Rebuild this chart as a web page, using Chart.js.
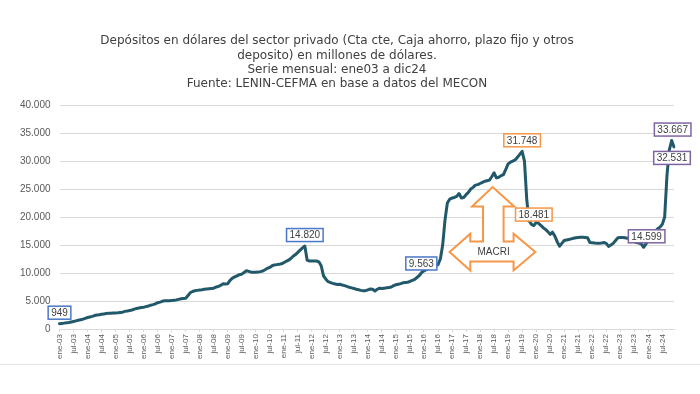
<!DOCTYPE html>
<html><head><meta charset="utf-8">
<script src="https://cdn.jsdelivr.net/npm/chart.js@4"></script>
<style>html,body{margin:0;padding:0;background:#fff;}#wrap{width:700px;height:394px;position:relative;}</style>
</head><body><div id="wrap"><canvas id="c" width="700" height="394"></canvas></div>
<script>
// ---- data ----
const monthNames = ['ene','feb','mar','abr','may','jun','jul','ago','sep','oct','nov','dic'];
const years = ['03','04','05','06','07','08','09','10','11','12','13','14','15','16','17','18','19','20','21','22','23','24'];
const categories = [];
years.forEach(y => monthNames.forEach(m => categories.push(m + '-' + y)));

const y2003 = [949, 1000, 1050, 1100, 1150, 1250, 1350, 1450, 1550, 1650, 1750, 1900];
const y2004 = [2050, 2150, 2250, 2400, 2500, 2550, 2650, 2700, 2750, 2800, 2800, 2850];
const y2005 = [2880, 2900, 2950, 3000, 3150, 3200, 3300, 3400, 3550, 3650, 3750, 3850];
const y2006 = [3900, 4000, 4100, 4250, 4350, 4500, 4700, 4800, 4950, 5050, 5050, 5060];
const y2007 = [5070, 5150, 5200, 5300, 5400, 5450, 5500, 6000, 6500, 6700, 6850, 6900];
const y2008 = [6950, 7000, 7100, 7150, 7200, 7250, 7300, 7500, 7600, 7800, 8100, 8050];
const y2009 = [8100, 8700, 9100, 9300, 9500, 9700, 9800, 10100, 10400, 10300, 10150, 10150];
const y2010 = [10150, 10200, 10250, 10350, 10600, 10850, 11000, 11300, 11450, 11500, 11550, 11650];
const y2011 = [11850, 12100, 12300, 12600, 13000, 13300, 13700, 14100, 14500, 14820, 12300, 12150];
const y2012 = [12150, 12150, 12150, 12000, 11300, 9500, 8900, 8450, 8300, 8150, 8050, 7950];
const y2013 = [8000, 7850, 7750, 7600, 7450, 7350, 7250, 7100, 7000, 6900, 6850, 6850];
const y2014 = [7000, 7150, 7100, 6800, 7100, 7300, 7250, 7300, 7350, 7400, 7500, 7750];
const y2015 = [7900, 8000, 8100, 8250, 8300, 8350, 8500, 8700, 8850, 9200, 9563, 10100];
const y2016 = [10400, 10600, 10800, 10900, 11000, 11300, 11500, 12500, 15000, 19500, 22500, 23200];
const y2017 = [23400, 23500, 23700, 24200, 23400, 23500, 24000, 24400, 25000, 25300, 25700, 25800];
const y2018 = [26000, 26200, 26400, 26500, 26600, 27200, 27900, 27000, 27100, 27400, 27600, 28500];
const y2019 = [29500, 29800, 30000, 30200, 30700, 31200, 31748, 30000, 23000, 19300, 18700, 18481];
const y2020 = [19050, 18900, 18500, 18100, 17800, 17400, 16900, 17300, 16600, 15600, 14800, 15300];
const y2021 = [15800, 15900, 16000, 16100, 16200, 16300, 16350, 16400, 16400, 16350, 16300, 15450];
const y2022 = [15400, 15350, 15300, 15300, 15350, 15450, 15300, 14750, 15000, 15300, 15800, 16300];
const y2023 = [16350, 16350, 16300, 16230, 16100, 15800, 15600, 15450, 15350, 15200, 14599, 15200];
const y2024 = [15800, 16500, 17100, 17500, 17900, 18200, 18700, 20000, 27500, 32000, 33667, 32531];

const deposits = [].concat(y2003, y2004, y2005, y2006, y2007, y2008, y2009, y2010, y2011, y2012, y2013,
  y2014, y2015, y2016, y2017, y2018, y2019, y2020, y2021, y2022, y2023, y2024);

const yTicks = [0, 5000, 10000, 15000, 20000, 25000, 30000, 35000, 40000];
const calloutMonths = ['ene-03', 'oct-11', 'nov-15', 'jul-19', 'dic-19', 'nov-23', 'nov-24', 'dic-24'];
const calloutGroups = ['k', 'k', 'k', 'm', 'm', 'l', 'l', 'l'];
const titleLines = [
  'Depósitos en dólares del sector privado (Cta cte, Caja ahorro, plazo fijo y otros',
  'deposito) en millones de dólares.',
  'Serie mensual: ene03 a dic24',
  'Fuente: LENIN-CEFMA en base a datos del MECON'
];
const arrowText = 'MACRI';

// ---- styles ----
const groupColor = { k: '#4a78c8', m: '#f79646', l: '#8064a2' };
const calloutOffset = {
  'ene-03': [0, -11], 'oct-11': [0, -11], 'nov-15': [2, -12], 'jul-19': [0, -11],
  'dic-19': [0, -11], 'nov-23': [3, -11], 'nov-24': [1, -11], 'dic-24': [-2, 11]
};
function fmt(v) { return String(Math.round(v)).replace(/\B(?=(\d{3})+(?!\d))/g, '.'); }

const decor = {
  id: 'decor',
  afterDatasetsDraw(chart) {
    const ctx = chart.ctx, xs = chart.scales.x, ys = chart.scales.y;
    // MACRI arrow
    const ax = xs.getPixelForValue(186) - 1.5, ay = ys.getPixelForValue(13750);
    const pts = [[-43,0],[-22.3,-18.3],[-22.3,-10.6],[-9.6,-10.6],[-9.6,-45.6],[-20.6,-45.6],[0,-65],
      [21.7,-45.6],[11,-45.6],[11,-10.6],[21,-10.6],[21,-18.3],[42.7,0],[21,18.4],[21,9.4],[-22.3,9.4],[-22.3,18.4]];
    ctx.save();
    ctx.beginPath();
    pts.forEach((p, k) => k ? ctx.lineTo(ax + p[0], ay + p[1]) : ctx.moveTo(ax + p[0], ay + p[1]));
    ctx.closePath();
    ctx.fillStyle = '#ffffff'; ctx.fill();
    ctx.strokeStyle = '#f79646'; ctx.lineWidth = 2; ctx.lineJoin = 'miter'; ctx.stroke();
    ctx.fillStyle = '#404040'; ctx.font = '10px "Liberation Sans"';
    ctx.textAlign = 'center'; ctx.textBaseline = 'middle';
    ctx.fillText(arrowText, ax + 1, ay + 0.5);
    // callouts
    calloutMonths.forEach((m, k) => {
      const i = categories.indexOf(m);
      const v = deposits[i];
      const off = calloutOffset[m];
      const px = xs.getPixelForValue(i) + off[0], py = ys.getPixelForValue(v) + off[1];
      const txt = fmt(v);
      ctx.font = '10px "Liberation Sans"';
      const w = ctx.measureText(txt).width + 6, h = 13;
      ctx.fillStyle = '#ffffff';
      ctx.fillRect(px - w / 2, py - h / 2, w, h);
      ctx.strokeStyle = groupColor[calloutGroups[k]]; ctx.lineWidth = 1.5;
      ctx.strokeRect(px - w / 2, py - h / 2, w, h);
      ctx.fillStyle = '#404040';
      ctx.fillText(txt, px, py + 0.5);
    });
    ctx.restore();
  },
  afterDraw(chart) {
    const ctx = chart.ctx;
    ctx.save();
    ctx.strokeStyle = '#e6e6e6'; ctx.lineWidth = 1;
    ctx.beginPath(); ctx.moveTo(0, 364.5); ctx.lineTo(700, 364.5); ctx.stroke();
    ctx.restore();
  }
};

new Chart(document.getElementById('c'), {
  type: 'line',
  data: {
    labels: categories,
    datasets: [{
      data: deposits, borderColor: '#22596a', borderWidth: 3, pointRadius: 0,
      tension: 0, fill: false, borderJoinStyle: 'round', borderCapStyle: 'round'
    }]
  },
  options: {
    responsive: false, animation: false, devicePixelRatio: 1,
    layout: { padding: { left: 0, right: 26, top: 0, bottom: 0 } },
    plugins: {
      legend: { display: false }, tooltip: { enabled: false },
      title: {
        display: true, text: titleLines, color: '#404040',
        font: { family: 'DejaVu Sans', size: 12, weight: 'normal', lineHeight: 1.19 },
        padding: { top: 34, bottom: 14 }
      }
    },
    scales: {
      x: {
        type: 'category', offset: false,
        grid: { drawOnChartArea: false, drawTicks: true, tickLength: 3,
          color: c => (c.index % 6 === 0 ? '#d9d9d9' : 'rgba(0,0,0,0)') },
        border: { display: true, color: '#d9d9d9' },
        ticks: {
          autoSkip: false, maxRotation: 90, minRotation: 90, padding: 2,
          color: '#595959', font: { family: 'Liberation Sans', size: 8 },
          callback: (v, i) => (i % 6 === 0 ? categories[i] : '')
        },
        afterFit: s => { s.height = 65; }
      },
      y: {
        min: 0, max: 40000,
        afterBuildTicks: s => { s.ticks = yTicks.map(v => ({ value: v })); },
        grid: { color: '#d9d9d9', drawTicks: false },
        border: { display: false },
        ticks: { padding: 9, color: '#595959', font: { family: 'Liberation Sans', size: 10 },
          callback: v => fmt(v) },
        afterFit: s => { s.width = 59.5; }
      }
    }
  },
  plugins: [decor]
});
</script></body></html>
